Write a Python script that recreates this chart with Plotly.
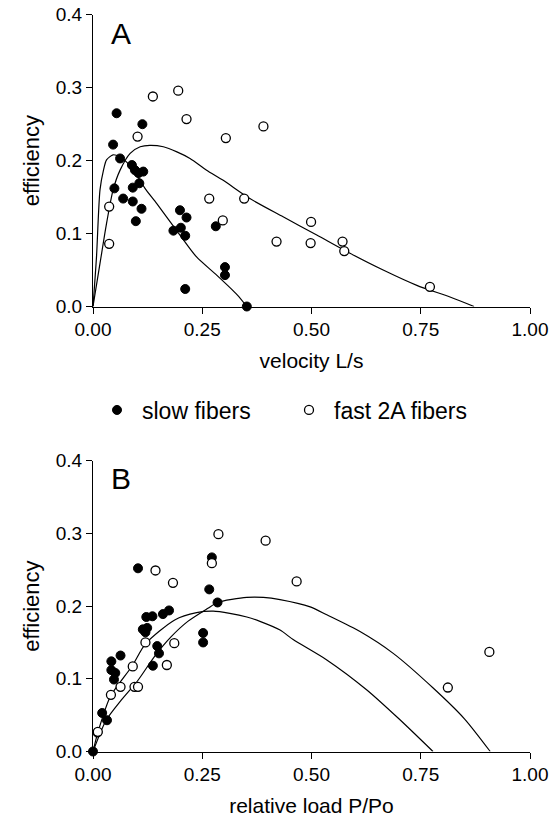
import plotly.graph_objects as go

# ---------------- Panel A: efficiency vs velocity ----------------
slowA_v = [0.054, 0.113, 0.046, 0.062, 0.089, 0.096, 0.104, 0.115, 0.106, 0.091, 0.049, 0.069,
           0.091, 0.111, 0.098, 0.199, 0.214, 0.184, 0.201, 0.211, 0.281, 0.302, 0.302, 0.211, 0.352]
slowA_e = [0.265, 0.250, 0.222, 0.203, 0.194, 0.187, 0.183, 0.185, 0.169, 0.163, 0.162, 0.148,
           0.144, 0.134, 0.117, 0.132, 0.122, 0.104, 0.108, 0.097, 0.110, 0.054, 0.043, 0.024, 0.0]

fastA_v = [0.137, 0.195, 0.214, 0.102, 0.304, 0.390, 0.037, 0.037, 0.266, 0.346, 0.297,
           0.499, 0.420, 0.498, 0.571, 0.575, 0.771]
fastA_e = [0.288, 0.296, 0.257, 0.233, 0.231, 0.247, 0.137, 0.086, 0.148, 0.148, 0.118,
           0.116, 0.089, 0.087, 0.089, 0.076, 0.027]

# fitted curves
slowA_fit_v = [0.0, 0.008, 0.016, 0.024, 0.031, 0.046, 0.062, 0.077, 0.092, 0.108, 0.119,
               0.146, 0.199, 0.237, 0.283, 0.330, 0.352]
slowA_fit_e = [0.0, 0.068, 0.160, 0.187, 0.201, 0.208, 0.205, 0.198, 0.187, 0.173, 0.162,
               0.141, 0.098, 0.068, 0.043, 0.016, 0.0]
fastA_fit_v = [0.0, 0.016, 0.031, 0.046, 0.062, 0.085, 0.108, 0.130, 0.161, 0.192, 0.222,
               0.260, 0.298, 0.359, 0.435, 0.512, 0.588, 0.664, 0.741, 0.817, 0.872]
fastA_fit_e = [0.0, 0.059, 0.114, 0.160, 0.187, 0.210, 0.219, 0.221, 0.219, 0.212, 0.203,
               0.187, 0.173, 0.148, 0.123, 0.098, 0.073, 0.050, 0.029, 0.013, 0.0]

# ---------------- Panel B: efficiency vs relative load ----------------
slowB_p = [0.103, 0.122, 0.136, 0.160, 0.174, 0.114, 0.124, 0.120, 0.147, 0.151, 0.137, 0.063,
           0.042, 0.042, 0.051, 0.048, 0.021, 0.032, 0.010, 0.0, 0.252, 0.252, 0.266, 0.272, 0.285]
slowB_e = [0.252, 0.185, 0.186, 0.189, 0.194, 0.168, 0.170, 0.164, 0.145, 0.135, 0.118, 0.132,
           0.124, 0.112, 0.108, 0.099, 0.053, 0.043, 0.026, 0.0, 0.163, 0.150, 0.223, 0.267, 0.205]

fastB_p = [0.143, 0.183, 0.287, 0.395, 0.272, 0.466, 0.186, 0.120, 0.169, 0.091, 0.095,
           0.103, 0.063, 0.041, 0.011, 0.907, 0.812]
fastB_e = [0.249, 0.232, 0.299, 0.290, 0.259, 0.234, 0.149, 0.150, 0.119, 0.117, 0.089,
           0.089, 0.089, 0.078, 0.027, 0.137, 0.088]

slowB_fit_p = [0.0, 0.011, 0.040, 0.090, 0.120, 0.187, 0.237, 0.275, 0.313, 0.352, 0.382,
               0.428, 0.458, 0.535, 0.626, 0.700, 0.778]
slowB_fit_e = [0.0, 0.026, 0.076, 0.118, 0.148, 0.181, 0.191, 0.193, 0.190, 0.185, 0.179,
               0.167, 0.154, 0.126, 0.085, 0.045, 0.0]
fastB_fit_p = [0.0, 0.030, 0.065, 0.103, 0.141, 0.179, 0.217, 0.263, 0.285, 0.352, 0.390,
               0.428, 0.497, 0.535, 0.611, 0.687, 0.779, 0.850, 0.909]
fastB_fit_e = [0.0, 0.043, 0.071, 0.098, 0.131, 0.158, 0.179, 0.197, 0.205, 0.212, 0.212,
               0.209, 0.199, 0.188, 0.165, 0.135, 0.087, 0.045, 0.0]

x_ticks = [0.0, 0.25, 0.5, 0.75, 1.0]
x_ticklabels = ["0.00", "0.25", "0.50", "0.75", "1.00"]
y_ticks = [0.0, 0.1, 0.2, 0.3, 0.4]
y_ticklabels = ["0.0", "0.1", "0.2", "0.3", "0.4"]

FONT = "Arial, Liberation Sans, sans-serif"
W, H = 556, 821

fig = go.Figure()

line_style = dict(color="black", width=1.2, shape="spline", smoothing=0.7)
filled = dict(symbol="circle", size=9, color="black", line=dict(color="black", width=1))
opened = dict(symbol="circle", size=9, color="white", line=dict(color="black", width=1.3))

# curves first
fig.add_trace(go.Scatter(x=slowA_fit_v, y=slowA_fit_e, mode="lines", line=line_style,
                         showlegend=False, xaxis="x", yaxis="y", hoverinfo="skip"))
fig.add_trace(go.Scatter(x=fastA_fit_v, y=fastA_fit_e, mode="lines", line=line_style,
                         showlegend=False, xaxis="x", yaxis="y", hoverinfo="skip"))
fig.add_trace(go.Scatter(x=slowB_fit_p, y=slowB_fit_e, mode="lines", line=line_style,
                         showlegend=False, xaxis="x2", yaxis="y2", hoverinfo="skip"))
fig.add_trace(go.Scatter(x=fastB_fit_p, y=fastB_fit_e, mode="lines", line=line_style,
                         showlegend=False, xaxis="x2", yaxis="y2", hoverinfo="skip"))

# points
fig.add_trace(go.Scatter(x=slowA_v, y=slowA_e, mode="markers", marker=filled, name="slow fibers",
                         xaxis="x", yaxis="y", cliponaxis=False, legendgroup="slow"))
fig.add_trace(go.Scatter(x=fastA_v, y=fastA_e, mode="markers", marker=opened, name="fast 2A fibers",
                         xaxis="x", yaxis="y", cliponaxis=False, legendgroup="fast"))
fig.add_trace(go.Scatter(x=slowB_p, y=slowB_e, mode="markers", marker=filled, name="slow fibers",
                         xaxis="x2", yaxis="y2", cliponaxis=False, showlegend=False))
fig.add_trace(go.Scatter(x=fastB_p, y=fastB_e, mode="markers", marker=opened, name="fast 2A fibers",
                         xaxis="x2", yaxis="y2", cliponaxis=False, showlegend=False))

x_dom = [93 / W, 530 / W]
yA_dom = [1 - 306.5 / H, 1 - 14.8 / H]
yB_dom = [1 - 751.5 / H, 1 - 460.7 / H]

def xaxis(title, anchor):
    return dict(domain=x_dom, range=[0, 1], tickvals=x_ticks, ticktext=x_ticklabels,
                showline=True, linecolor="black", linewidth=1, ticks="outside", ticklen=6,
                tickcolor="black", showgrid=False, zeroline=False, anchor=anchor, automargin=False,
                tickfont=dict(family=FONT, size=19, color="black"),
                title=dict(text=title, font=dict(family=FONT, size=21, color="black"), standoff=14))

def yaxis(dom, anchor):
    return dict(domain=dom, range=[0, 0.4], tickvals=y_ticks, ticktext=y_ticklabels,
                showline=True, linecolor="black", linewidth=1, ticks="outside", ticklen=6,
                tickcolor="black", showgrid=False, zeroline=False, anchor=anchor, automargin=False,
                tickfont=dict(family=FONT, size=19, color="black"),
                title=dict(text="efficiency", font=dict(family=FONT, size=22, color="black"), standoff=10))

fig.update_layout(
    width=W, height=H,
    margin=dict(l=0, r=0, t=0, b=0, autoexpand=False),
    paper_bgcolor="white", plot_bgcolor="white",
    font=dict(family=FONT, color="black"),
    xaxis=xaxis("velocity L/s", "y"),
    yaxis=yaxis(yA_dom, "x"),
    xaxis2=xaxis("relative load P/Po", "y2"),
    yaxis2=yaxis(yB_dom, "x2"),
    showlegend=True,
    legend=dict(orientation="h", x=92 / W, xanchor="left", y=1 - 410 / H, yanchor="middle",
                font=dict(family=FONT, size=23, color="black"), entrywidth=137,
                entrywidthmode="pixels", bgcolor="rgba(0,0,0,0)", itemclick=False,
                borderwidth=0, itemwidth=40),
    annotations=[
        dict(text="A", x=0.063, y=0.374, xref="x", yref="y", showarrow=False,
             font=dict(family=FONT, size=30, color="black")),
        dict(text="B", x=0.063, y=0.375, xref="x2", yref="y2", showarrow=False,
             font=dict(family=FONT, size=30, color="black")),
    ],
)

fig.write_html("out.html", config={"displayModeBar": False},
               post_script="document.body.style.margin='0px';document.body.style.overflow='hidden';")
